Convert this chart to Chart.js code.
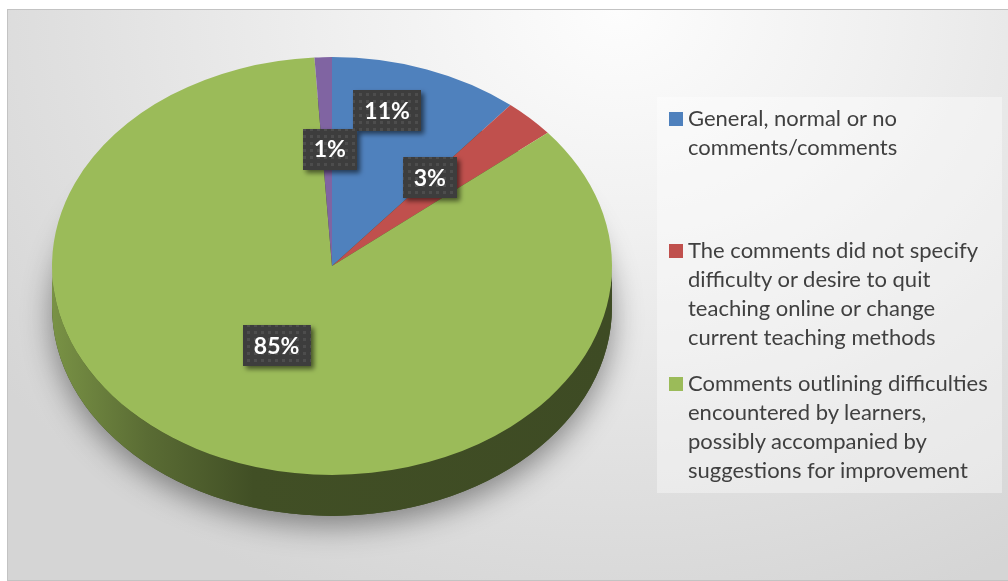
<!DOCTYPE html>
<html>
<head>
<meta charset="utf-8">
<script src="https://cdn.jsdelivr.net/npm/chart.js@4/dist/chart.umd.min.js"></script>
<style>
    html, body { margin: 0; padding: 0; background: #ffffff; }
    #wrap { position: relative; width: 1008px; height: 581px; overflow: hidden; }
    #frame {
        position: absolute; left: 7px; top: 9px; width: 1010px; height: 572px;
        box-sizing: border-box;
        border: 1px solid #c3c3c3;
        background: radial-gradient(ellipse 760px 640px at 610px 0px, #fdfdfd 0%, #f0f0f0 35%, #e0e0e0 72%, #d5d5d5 100%);
    }
    #chart { position: absolute; left: 0; top: 0; }
    #legend {
        position: absolute; left: 657px; top: 97px; width: 345px; height: 396px;
        background: rgba(255, 255, 255, 0.38);
        font-family: Lato, "Open Sans", sans-serif; font-size: 22px; color: #404040;
    }
    .item { position: absolute; left: 31px; line-height: 29px; white-space: nowrap; }
    .swatch { position: absolute; left: -19px; top: 9px; width: 14px; height: 14px; }
</style>
</head>
<body>
<div id="wrap">
    <div id="frame"></div>
    <canvas id="chart" width="1008" height="581"></canvas>
    <div id="legend"></div>
</div>
<script>
// Categories (each split in the lines shown in the legend)
const categories = [
    ["General, normal or no", "comments/comments"],
    ["The comments did not specify", "difficulty or desire to quit", "teaching online or change", "current teaching methods"],
    ["Comments outlining difficulties", "encountered by learners,", "possibly accompanied by", "suggestions for improvement"],
    []  // small purple slice, no legend entry
];
const shares = [11, 3, 85, 1];
const colors = ["#4f81bd", "#c0504d", "#9bbb59", "#8064a2"];

// label placement: fraction of radius, angle shift (deg) from the slice middle
const labelRadius = [0.77, 0.55, 0.43, 0.56];
const labelShift = [-5, -5.6, 4, 1];

// 3D look
const tilt = 0.746;
const pieCenterY = 266;
const depth = 41;

function shade(hex, f) {
    const n = parseInt(hex.slice(1), 16);
    const r = Math.round(((n >> 16) & 255) * f);
    const g = Math.round(((n >> 8) & 255) * f);
    const b = Math.round((n & 255) * f);
    return `rgb(${r},${g},${b})`;
}

// dotted fill for the data label boxes
function makePattern(ctx) {
    const p = document.createElement("canvas");
    p.width = 7; p.height = 7;
    const pc = p.getContext("2d");
    pc.fillStyle = "#3d3d3d";
    pc.fillRect(0, 0, 7, 7);
    pc.fillStyle = "#4d4d4d";
    pc.fillRect(2, 2, 3, 3);
    return ctx.createPattern(p, "repeat");
}

const pie3d = {
    id: "pie3d",
    beforeDatasetsDraw(chart) {
        const ctx = chart.ctx;
        const arcs = chart.getDatasetMeta(0).data;
        const cx = arcs[0].x, cy = arcs[0].y, r = arcs[0].outerRadius;
        const ry = r * tilt;

        // soft shadow under the disc
        ctx.save();
        ctx.shadowColor = "rgba(0,0,0,0.42)";
        ctx.shadowBlur = 30;
        ctx.shadowOffsetY = 10;
        ctx.fillStyle = "#3e4b24";
        ctx.beginPath();
        ctx.ellipse(cx, pieCenterY + depth, r, ry, 0, 0, Math.PI * 2);
        ctx.fill();
        ctx.restore();

        // side wall of each slice
        arcs.forEach((arc, i) => {
            const lo = Math.max(arc.startAngle, 0);
            const hi = Math.min(arc.endAngle, Math.PI);
            if (hi <= lo) return;
            const grad = ctx.createLinearGradient(cx - r, 0, cx + r, 0);
            grad.addColorStop(0, shade(colors[i], 0.78));
            grad.addColorStop(0.17, shade(colors[i], 0.58));
            grad.addColorStop(0.36, shade(colors[i], 0.42));
            grad.addColorStop(1, shade(colors[i], 0.4));
            ctx.fillStyle = grad;
            ctx.beginPath();
            ctx.ellipse(cx, pieCenterY, r, ry, 0, lo, hi, false);
            ctx.ellipse(cx, pieCenterY + depth, r, ry, 0, hi, lo, true);
            ctx.closePath();
            ctx.fill();
        });

        // squash the top face into an ellipse
        ctx.save();
        ctx.translate(cx, pieCenterY);
        ctx.scale(1, tilt);
        ctx.translate(-cx, -cy);
    },
    afterDatasetsDraw(chart) {
        const ctx = chart.ctx;
        ctx.restore();

        const arcs = chart.getDatasetMeta(0).data;
        const pattern = makePattern(ctx);
        ctx.save();
        ctx.font = "bold 23px Lato, sans-serif";
        ctx.textAlign = "center";
        ctx.textBaseline = "middle";
        arcs.forEach((arc, i) => {
            const mid = (arc.startAngle + arc.endAngle) / 2 + labelShift[i] * Math.PI / 180;
            const rr = arc.outerRadius * labelRadius[i];
            const x = arc.x + Math.cos(mid) * rr;
            const y = pieCenterY + Math.sin(mid) * rr * tilt;
            const txt = Math.round(shares[i]) + "%";
            const w = ctx.measureText(txt).width + 22;
            const h = 41;
            ctx.save();
            ctx.shadowColor = "rgba(0,0,0,0.55)";
            ctx.shadowBlur = 5;
            ctx.shadowOffsetX = 3;
            ctx.shadowOffsetY = 3;
            ctx.fillStyle = pattern;
            ctx.fillRect(Math.round(x - w / 2), Math.round(y - h / 2), Math.round(w), h);
            ctx.restore();
            ctx.fillStyle = "#ffffff";
            ctx.fillText(txt, x, y + 1);
        });
        ctx.restore();
    }
};

new Chart(document.getElementById("chart"), {
    type: "pie",
    data: {
        labels: categories.map(c => c.join(" ")),
        datasets: [{
            data: shares,
            backgroundColor: colors,
            borderWidth: 0,
            hoverOffset: 0,
            offset: 0
        }]
    },
    options: {
        responsive: false,
        animation: false,
        events: [],
        layout: { padding: { left: 52, right: 396, top: 10, bottom: 11 } },
        plugins: {
            legend: { display: false },
            tooltip: { enabled: false }
        }
    },
    plugins: [pie3d]
});

// Legend
const legendTops = [6, 138, 271];
const legend = document.getElementById("legend");
categories.forEach((lines, i) => {
    if (!lines.length) return;
    const item = document.createElement("div");
    item.className = "item";
    item.style.top = legendTops[i] + "px";
    item.innerHTML = `<span class="swatch" style="background:${colors[i]}"></span>${lines.join("<br>")}`;
    legend.appendChild(item);
});
</script>
</body>
</html>
